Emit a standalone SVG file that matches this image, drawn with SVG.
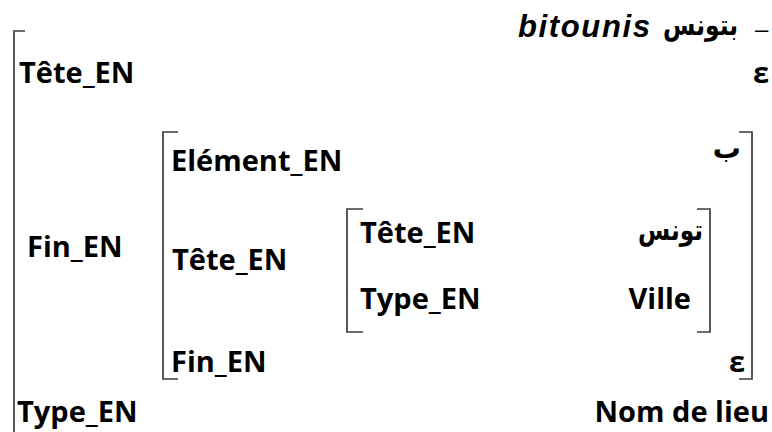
<svg xmlns="http://www.w3.org/2000/svg" width="772" height="432" viewBox="0 0 772 432">
<style>
.lbl{font-family:"Open Sans","Noto Sans","Liberation Sans",sans-serif;font-weight:bold;font-size:29px;fill:#000}
.ar{font-family:"DejaVu Sans","Noto Sans","Liberation Sans",sans-serif;font-weight:bold;fill:#000}
.hdr{font-family:"Liberation Sans",Arial,sans-serif;font-weight:bold;font-style:italic;font-size:31px;fill:#000}
.br{fill:none;stroke:#3c3c3c;stroke-width:1.7}
.r{text-anchor:end}
</style>
<rect width="772" height="432" fill="#fff"/>
<g id="header">
<text class="hdr" x="518" y="37" textLength="132" lengthAdjust="spacing">bitounis</text>
<text class="ar r" x="738" y="35" font-size="29" textLength="75" lengthAdjust="spacingAndGlyphs">بتونس</text>
<text x="755" y="37" font-family="Liberation Sans, Arial, sans-serif" font-size="24" fill="#000">–</text>
</g>
<g id="brackets">
<path class="br" d="M25,31 H14 V432"/>
<path class="br" d="M178,132 H163 V379 H178"/>
<path class="br" d="M739,132 H752 V379 H739"/>
<path class="br" d="M363,209 H347 V332 H363"/>
<path class="br" d="M697,209 H710 V332 H697"/>
</g>
<g id="row-tete"><text class="lbl" x="19" y="83">Tête_EN</text><text class="lbl r" x="769" y="83">ε</text></g>
<g id="row-fin">
<text class="lbl" x="27" y="257">Fin_EN</text>
<g id="row-element"><text class="lbl" x="171" y="171">Elément_EN</text><text class="ar r" x="741" y="158" font-size="28">ب</text></g>
<g id="row-tete2"><text class="lbl" x="172" y="270">Tête_EN</text></g>
<g id="row-tete3"><text class="lbl" x="360" y="243">Tête_EN</text><text class="ar r" x="703" y="240" font-size="29" textLength="65" lengthAdjust="spacingAndGlyphs">تونس</text></g>
<g id="row-type2"><text class="lbl" x="360" y="309">Type_EN</text><text class="lbl r" x="691" y="309">Ville</text></g>
<g id="row-fin2"><text class="lbl" x="171" y="372">Fin_EN</text><text class="lbl r" x="745" y="372">ε</text></g>
</g>
<g id="row-type"><text class="lbl" x="17" y="422">Type_EN</text><text class="lbl r" x="769" y="422">Nom de lieu</text></g>
</svg>
